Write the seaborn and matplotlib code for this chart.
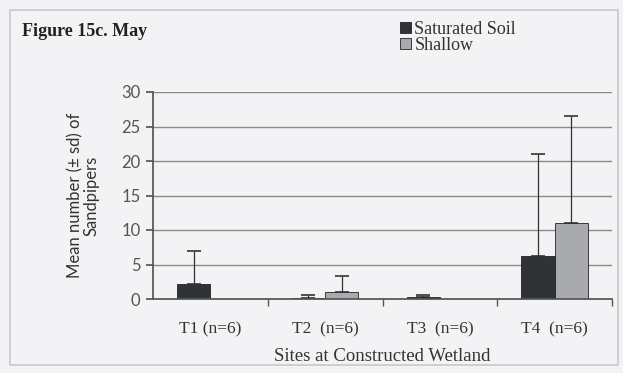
import matplotlib
matplotlib.use("Agg")
import matplotlib.pyplot as plt
import seaborn as sns
import pandas as pd
import numpy as np
from matplotlib.patches import Rectangle

sites = ["T1 (n=6)", "T2  (n=6)", "T3  (n=6)", "T4  (n=6)"]
habitats = ["Saturated Soil", "Shallow"]
saturated_mean = [2.2, 0.2, 0.3, 6.3]
saturated_sd = [4.8, 0.4, 0.3, 14.7]
shallow_mean = [0.0, 1.0, 0.0, 11.0]
shallow_sd = [0.0, 2.4, 0.0, 15.5]
yticks = [0, 5, 10, 15, 20, 25, 30]

df = pd.DataFrame({
    "site": sites * 2,
    "habitat": [habitats[0]] * 4 + [habitats[1]] * 4,
    "mean": saturated_mean + shallow_mean,
    "sd": saturated_sd + shallow_sd,
})

sns.set_theme(style="white")
plt.rcParams['font.family'] = ['Liberation Serif', 'DejaVu Serif']

bg = "#f3f3f5"
fig = plt.figure(figsize=(6.23, 3.73), dpi=100, facecolor=bg)
ax = fig.add_axes([153/623, 1-299/373, (612-153)/623, (299-92)/373])
ax.set_facecolor(bg)

palette = {"Saturated Soil": "#2f3336", "Shallow": "#a8aaad"}
sns.barplot(data=df, x="site", y="mean", hue="habitat", palette=palette,
            errorbar=None, width=0.58, ax=ax, edgecolor="#222222", linewidth=0.6,
            saturation=1)

# error bars (upper only)
for cont, sds in zip(ax.containers, [saturated_sd, shallow_sd]):
    for patch, sd in zip(cont.patches, sds):
        if sd <= 0:
            continue
        x = patch.get_x() + patch.get_width() / 2
        h = patch.get_height()
        ax.errorbar([x], [h], yerr=[[0], [sd]], fmt="none", ecolor="#333333",
                    elinewidth=0.9, capsize=5, capthick=1.2)

ax.set_ylim(0, 30)
ax.set_yticks(yticks)
ax.set_xlim(-0.5, 3.5)
ax.yaxis.grid(True, color="#8a8a8a", linewidth=1.0)
ax.set_axisbelow(True)
for s in ["top", "right"]:
    ax.spines[s].set_visible(False)
ax.spines["left"].set_color("#555555")
ax.spines["bottom"].set_color("#555555")
ax.tick_params(axis="y", left=True, length=5, color="#555555", labelsize=12,
               labelcolor="#555555", pad=4)
for lab in ax.get_yticklabels():
    lab.set_family(["Lato", "DejaVu Sans"])
ax.tick_params(axis="x", bottom=False, labelsize=12.5, labelcolor="#333333", pad=10)
ax.set_xticks(range(4))
ax.set_xticks([0.5, 1.5, 2.5, 3.5], minor=True)
ax.tick_params(axis="x", which="minor", bottom=True, length=5, color="#555555")

ax.set_xlabel("Sites at Constructed Wetland", fontsize=13.5, color="#333333", labelpad=8)
ax.set_ylabel("Mean number (± sd) of\nSandpipers", fontsize=12, color="#333333",
              labelpad=16, family=["Lato", "DejaVu Sans"], linespacing=1.0)

leg = ax.legend(loc="upper left", bbox_to_anchor=(391/623, 1-12/373),
                bbox_transform=fig.transFigure, frameon=False, fontsize=13,
                handlelength=0.6, handleheight=0.6, handletextpad=0.2,
                labelspacing=-0.05, borderpad=0, title=None)
for t in leg.get_texts():
    t.set_color("#333333")

fig.text(22/623, 1-31/373, "Figure 15c. May", fontsize=13, fontweight="bold",
         color="#222222", va="center", ha="left")

fig.patches.append(Rectangle((10/623, 1-365/373), 608/623, 355/373,
                             transform=fig.transFigure, fill=False,
                             edgecolor="#c8c8cc", linewidth=1.2))

fig.savefig("out.png", dpi=100, facecolor=bg)
